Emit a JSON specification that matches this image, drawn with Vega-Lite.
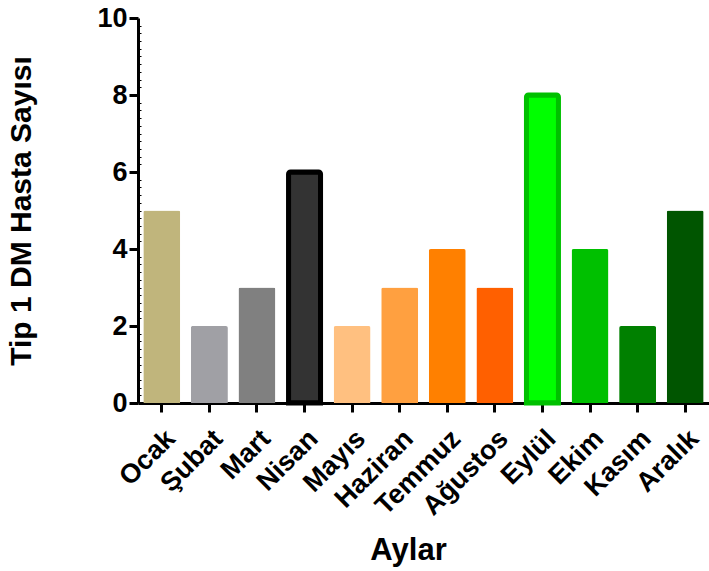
{
  "$schema": "https://vega.github.io/schema/vega-lite/v6.json",
  "autosize": {"type": "none"},
  "padding": {"left": 138, "top": 18, "right": 0, "bottom": 168},
  "width": 571,
  "height": 385,
  "background": "white",
  "config": {
    "view": {"stroke": null},
    "font": "Liberation Sans"
  },
  "data": {
    "values": [
      {"Ay": "Ocak", "Sayi": 5},
      {"Ay": "Şubat", "Sayi": 2},
      {"Ay": "Mart", "Sayi": 3},
      {"Ay": "Nisan", "Sayi": 6},
      {"Ay": "Mayıs", "Sayi": 2},
      {"Ay": "Haziran", "Sayi": 3},
      {"Ay": "Temmuz", "Sayi": 4},
      {"Ay": "Ağustos", "Sayi": 3},
      {"Ay": "Eylül", "Sayi": 8},
      {"Ay": "Ekim", "Sayi": 4},
      {"Ay": "Kasım", "Sayi": 2},
      {"Ay": "Aralık", "Sayi": 5}
    ]
  },
  "mark": {"type": "bar", "cornerRadiusTopLeft": 2, "cornerRadiusTopRight": 2},
  "encoding": {
    "x": {
      "field": "Ay",
      "type": "nominal",
      "sort": null,
      "scale": {"paddingInner": 0.22, "paddingOuter": 0.11},
      "axis": {
        "title": "Aylar",
        "titleFontSize": 31,
        "titleFontWeight": "bold",
        "titleColor": "black",
        "titlePadding": 16,
        "titleX": 270,
        "labelAngle": -45,
        "labelFontSize": 27,
        "labelFontWeight": "bold",
        "labelColor": "black",
        "labelPadding": 13,
        "domainColor": "black",
        "domainWidth": 3,
        "tickColor": "black",
        "tickWidth": 3,
        "tickSize": 9
      }
    },
    "y": {
      "field": "Sayi",
      "type": "quantitative",
      "scale": {"domain": [0, 10], "nice": false},
      "axis": {
        "title": "Tip 1 DM Hasta Sayısı",
        "titleFontSize": 30,
        "titleFontWeight": "bold",
        "titleColor": "black",
        "titlePadding": 60,
        "values": [0, 0.2, 0.4, 0.6, 0.8, 1, 1.2, 1.4, 1.6, 1.8, 2, 2.2, 2.4, 2.6, 2.8, 3, 3.2, 3.4, 3.6, 3.8, 4, 4.2, 4.4, 4.6, 4.8, 5, 5.2, 5.4, 5.6, 5.8, 6, 6.2, 6.4, 6.6, 6.8, 7, 7.2, 7.4, 7.6, 7.8, 8, 8.2, 8.4, 8.6, 8.8, 9, 9.2, 9.4, 9.6, 9.8, 10],
        "labelExpr": "datum.value % 2 === 0 ? '' + datum.value : ''",
        "labelFontSize": 27,
        "labelFontWeight": "bold",
        "labelColor": "black",
        "labelPadding": 2,
        "labelOverlap": false,
        "grid": false,
        "domainColor": "black",
        "domainWidth": 3,
        "tickColor": "black",
        "tickWidth": {"condition": {"test": "datum.value % 2 === 0", "value": 3}, "value": 1},
        "tickSize": {"condition": {"test": "datum.value % 2 === 0", "value": 9}, "value": -3}
      }
    },
    "color": {
      "field": "Ay",
      "type": "nominal",
      "legend": null,
      "scale": {
        "domain": ["Ocak", "Şubat", "Mart", "Nisan", "Mayıs", "Haziran", "Temmuz", "Ağustos", "Eylül", "Ekim", "Kasım", "Aralık"],
        "range": ["#C0B57C", "#A0A0A5", "#808080", "#333333", "#FFC080", "#FFA040", "#FF8000", "#FF6000", "#00FF00", "#00C000", "#008000", "#005500"]
      }
    },
    "stroke": {
      "field": "Ay",
      "type": "nominal",
      "legend": null,
      "scale": {
        "domain": ["Ocak", "Şubat", "Mart", "Nisan", "Mayıs", "Haziran", "Temmuz", "Ağustos", "Eylül", "Ekim", "Kasım", "Aralık"],
        "range": ["#C0B57C", "#A0A0A5", "#808080", "#000000", "#FFC080", "#FFA040", "#FF8000", "#FF6000", "#00C000", "#00C000", "#008000", "#005500"]
      }
    },
    "strokeWidth": {
      "condition": {"test": "datum.Ay === 'Nisan' || datum.Ay === 'Eylül'", "value": 5},
      "value": 0
    },
    "size": {
      "condition": {"test": "datum.Ay === 'Nisan' || datum.Ay === 'Eylül'", "value": 32},
      "value": 37
    }
  }
}
